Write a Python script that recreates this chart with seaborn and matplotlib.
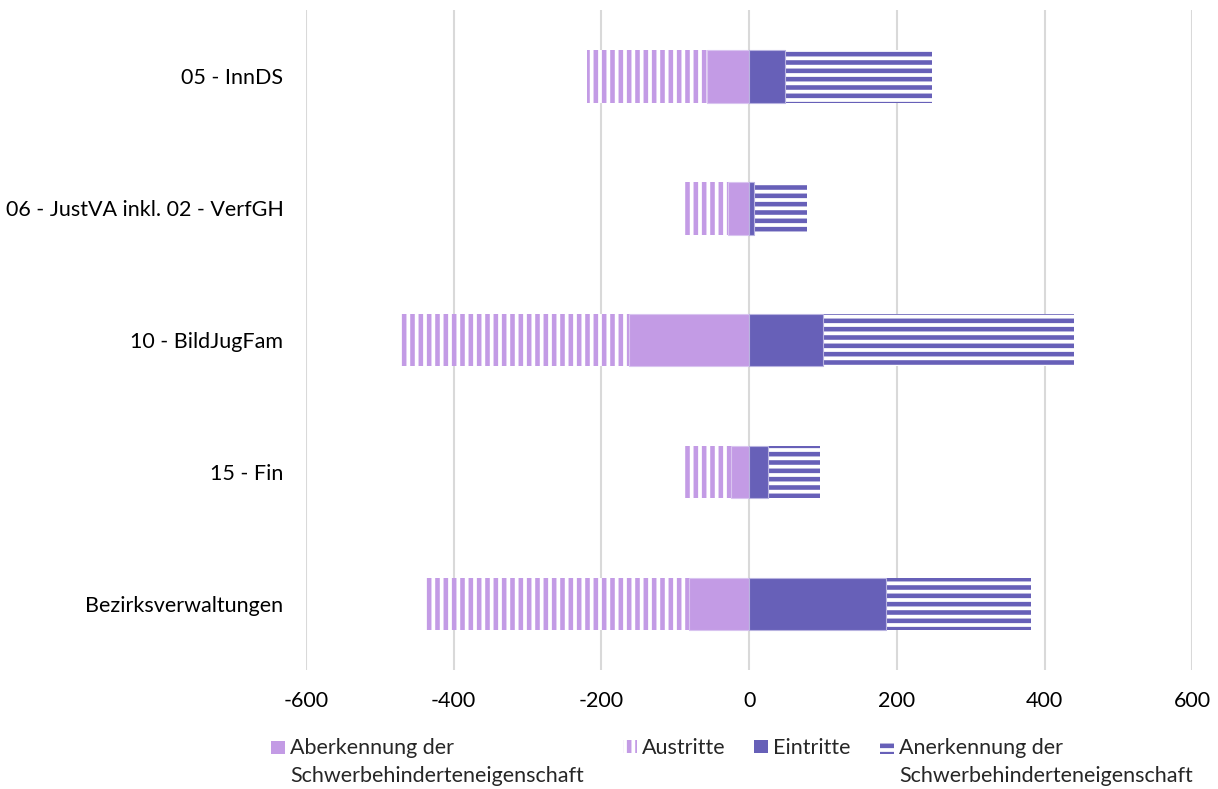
import matplotlib
matplotlib.use("Agg")
import matplotlib.pyplot as plt
import matplotlib.patches as mpatches
from matplotlib.legend_handler import HandlerPatch
import seaborn as sns

# categories and values
categories = ["05 - InnDS", "06 - JustVA inkl. 02 - VerfGH", "10 - BildJugFam", "15 - Fin", "Bezirksverwaltungen"]
aberkennung = [-57, -28, -162, -24, -81]
austritte = [-162, -59, -310, -65, -357]
eintritte = [48, 7, 100, 25, 185]
anerkennung = [199, 72, 340, 71, 196]
x_ticks = [-600, -400, -200, 0, 200, 400, 600]

label_aberkennung = "Aberkennung der\nSchwerbehinderteneigenschaft"
label_austritte = "Austritte"
label_eintritte = "Eintritte"
label_anerkennung = "Anerkennung der\nSchwerbehinderteneigenschaft"

light = "#C39BE5"
dark = "#6760B8"
fs = 15.5
line_sp = 1.5

sns.set_theme(style="white")
plt.rcParams["font.family"] = ["Lato", "DejaVu Sans"]
plt.rcParams["hatch.linewidth"] = 3.3

fig = plt.figure(figsize=(12.18, 7.89), dpi=100)
ax = fig.add_axes([0.251, 0.151, 0.728, 0.836])

# stacked segments: draw the outer totals first, then the inner part on top
neg_total = [a + b for a, b in zip(aberkennung, austritte)]
pos_total = [a + b for a, b in zip(eintritte, anerkennung)]

sns.barplot(x=neg_total, y=categories, color="white", edgecolor=light, hatch="||",
            linewidth=0, width=0.4, saturation=1, errorbar=None, ax=ax, zorder=2)
sns.barplot(x=pos_total, y=categories, color="white", edgecolor=dark, hatch="--",
            linewidth=0, width=0.4, saturation=1, errorbar=None, ax=ax, zorder=2)
sns.barplot(x=aberkennung, y=categories, color=light, edgecolor="#D9C4F0",
            linewidth=0.8, width=0.4, saturation=1, errorbar=None, ax=ax, zorder=3)
sns.barplot(x=eintritte, y=categories, color=dark, edgecolor="#B8B3E0",
            linewidth=0.8, width=0.4, saturation=1, errorbar=None, ax=ax, zorder=3)

ax.set_xlim(-600, 600)
ax.set_ylim(4.5, -0.5)
ax.set_xticks(x_ticks)
ax.set_xticklabels([str(t) for t in x_ticks])
ax.xaxis.grid(True, color="#D9D9D9", linewidth=1.5, zorder=0)
ax.set_axisbelow(True)
ax.tick_params(axis="both", length=0, labelsize=fs, colors="#000000")
ax.tick_params(axis="y", pad=16)
ax.tick_params(axis="x", pad=15)
for s in ax.spines.values():
    s.set_visible(False)
ax.set_xlabel("")
ax.set_ylabel("")


# legend markers sit next to the first line of a label
def top_patch(shift):
    def make(legend, orig_handle, xdescent, ydescent, width, height, fontsize):
        return mpatches.Rectangle((-xdescent, -ydescent + shift), width, height)
    return HandlerPatch(patch_func=make)


entries = [
    (mpatches.Patch(facecolor=light, edgecolor=light, linewidth=0), label_aberkennung, 271),
    (mpatches.Patch(facecolor="white", edgecolor=light, hatch="||", linewidth=0), label_austritte, 623),
    (mpatches.Patch(facecolor=dark, edgecolor=dark, linewidth=0), label_eintritte, 754),
    (mpatches.Patch(facecolor="white", edgecolor=dark, hatch="--", linewidth=0), label_anerkennung, 880),
]
for handle, label, xpix in entries:
    n_lines = label.count("\n")
    shift = n_lines * 0.5 * fs * line_sp * 0.95
    leg = fig.legend(handles=[handle], labels=[label], loc="upper left",
                     bbox_to_anchor=(xpix / 1218, 1 - 738 / 789), frameon=False,
                     fontsize=fs, handlelength=0.65, handleheight=0.55,
                     handletextpad=0.25, borderpad=0, borderaxespad=0,
                     handler_map={mpatches.Patch: top_patch(shift)})
    for t in leg.get_texts():
        t.set_linespacing(line_sp)

fig.savefig("out.png", dpi=100)
